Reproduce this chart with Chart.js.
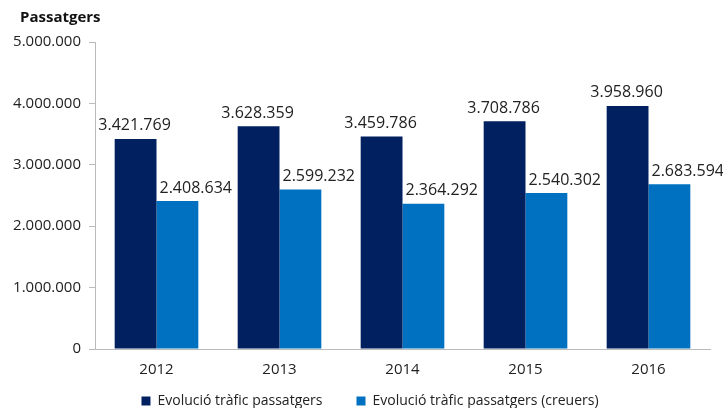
<!DOCTYPE html>
<html>
<head>
<meta charset="utf-8">
<script src="https://cdn.jsdelivr.net/npm/chart.js@4/dist/chart.umd.min.js"></script>
<style>
  body { margin: 0; background: #fff; }
  .wrap { width: 723px; height: 408px; }
</style>
</head>
<body>
<div class="wrap"><canvas id="myChart"></canvas></div>
<script>
const years = ['2012', '2013', '2014', '2015', '2016'];
const passatgers = [3421769, 3628359, 3459786, 3708786, 3958960];
const creuers = [2408634, 2599232, 2364292, 2540302, 2683594];
const axisTitle = 'Passatgers';

const fmt = v => String(v).replace(/\B(?=(\d{3})+(?!\d))/g, '.');

const LEGEND_GAP = 34;

// value labels: dark bars centred, light bars start at the bar's left edge
const barLabels = {
  id: 'barLabels',
  beforeLayout(chart) {
    // keep the legend box short so the plot reaches down to the axis line
    const lg = chart.legend;
    if (lg && !lg._patched) {
      const fit = lg.fit.bind(lg);
      lg.fit = function () {
        fit();
        this.height = 26;
      };
      lg._patched = true;
    }
  },
  afterLayout(chart) {
    const lg = chart.legend;
    if (!lg) return;
    lg.top = 394 - LEGEND_GAP;
    lg.bottom = chart.height;
    lg.height = lg.bottom - lg.top;
    lg.left += 15;
    lg.right += 15;
  },
  afterDatasetsDraw(chart) {
    const ctx = chart.ctx;
    ctx.save();
    ctx.font = '16px "Open Sans", sans-serif';
    ctx.fillStyle = '#222';
    ctx.textBaseline = 'bottom';
    chart.data.datasets.forEach((ds, i) => {
      chart.getDatasetMeta(i).data.forEach((bar, j) => {
        if (i === 0) {
          ctx.textAlign = 'center';
          ctx.fillText(fmt(ds.data[j]), bar.x - 1, bar.y - 5);
        } else {
          ctx.textAlign = 'left';
          ctx.fillText(fmt(ds.data[j]), bar.x - bar.width / 2 + 3, bar.y - 5);
        }
      });
    });
    // unit title over the y axis
    ctx.font = 'bold 15px "Open Sans", sans-serif';
    ctx.fillStyle = '#111';
    ctx.textAlign = 'left';
    ctx.textBaseline = 'middle';
    ctx.fillText(axisTitle, 20, 18);
    ctx.restore();
  },
};

const ctx = document.querySelector('#myChart').getContext('2d');
new Chart(ctx, {
  type: 'bar',
  data: {
    labels: years,
    datasets: [
      {
        label: 'Evolució tràfic passatgers',
        backgroundColor: '#002060',
        data: passatgers,
        categoryPercentage: 0.68,
        barPercentage: 1,
      },
      {
        label: 'Evolució tràfic passatgers (creuers)',
        backgroundColor: '#0070c0',
        data: creuers,
        categoryPercentage: 0.68,
        barPercentage: 1,
      },
    ],
  },
  options: {
    responsive: true,
    maintainAspectRatio: false,
    animation: false,
    layout: { padding: { left: 0, right: 13, top: 42, bottom: 0 } },
    plugins: {
      legend: {
        position: 'bottom',
        labels: {
          boxWidth: 9,
          boxHeight: 9,
          padding: LEGEND_GAP,
          color: '#222',
          font: { family: 'Open Sans', size: 14 },
        },
      },
      tooltip: { enabled: false },
    },
    scales: {
      x: {
        afterFit(scale) { scale.height = 33; },
        grid: { display: false },
        border: { color: '#bbb' },
        ticks: {
          color: '#222',
          font: { family: 'Open Sans', size: 15 },
          padding: 4,
        },
      },
      y: {
        min: 0,
        max: 5000000,
        afterFit(scale) { scale.width = 95; },
        grid: { drawOnChartArea: false, tickLength: 6, color: '#bbb' },
        border: { color: '#bbb' },
        ticks: {
          stepSize: 1000000,
          color: '#222',
          font: { family: 'Open Sans', size: 15 },
          padding: 8,
          callback: v => fmt(v),
        },
      },
    },
  },
  plugins: [barLabels],
});
</script>
</body>
</html>
